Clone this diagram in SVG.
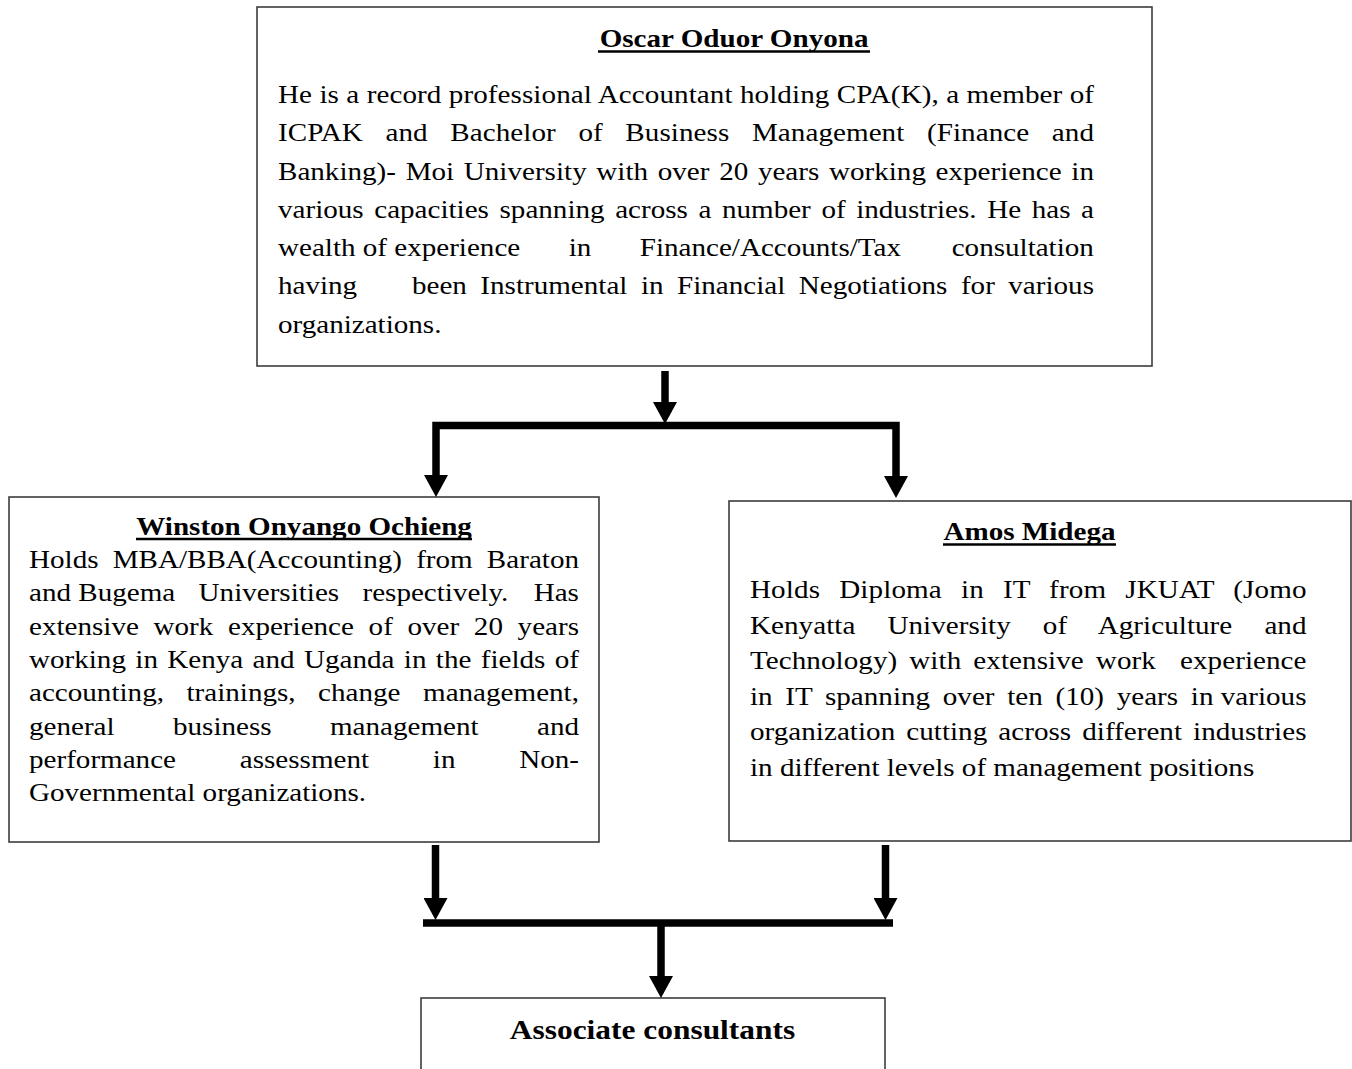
<svg xmlns="http://www.w3.org/2000/svg" width="1352" height="1069" viewBox="0 0 1352 1069">
<style>
.box{fill:#fff;stroke:#3c3c3c;stroke-width:1.6}
.t{font-family:"Liberation Serif","Times New Roman",serif;font-size:25px;fill:#000}
.h{font-family:"Liberation Serif","Times New Roman",serif;font-size:25px;font-weight:bold;fill:#000;text-anchor:middle}
.hb{font-family:"Liberation Serif","Times New Roman",serif;font-size:27px;font-weight:bold;fill:#000;text-anchor:middle}
.ul{stroke:#000;stroke-width:2.6;fill:none}
.conn{fill:none;stroke:#000;stroke-width:7.5;stroke-linejoin:miter;stroke-linecap:butt}
</style>
<defs>
<marker id="arrow" markerUnits="userSpaceOnUse" markerWidth="22" markerHeight="24" viewBox="0 0 22 24" refX="0" refY="12" orient="auto">
<path d="M0,0 L22,12 L0,24 Z" fill="#000"/>
</marker>
</defs>
<rect width="1352" height="1069" fill="#fff"/>

<g id="node-oscar">
<rect class="box" x="257" y="7" width="895" height="359"/>
<line class="ul" x1="598" y1="51.5" x2="870" y2="51.5"/>
<g transform="translate(278 0) scale(1.164 1)">
<text class="h" x="391.8" y="47">Oscar Oduor Onyona</text>
<text class="t" x="0" y="103" textLength="701" lengthAdjust="spacing">He is a record professional Accountant holding CPA(K), a member of</text>
<text class="t" x="0" y="141.3" style="word-spacing:13.14px" textLength="701" lengthAdjust="spacing">ICPAK and Bachelor of Business Management (Finance and</text>
<text class="t" x="0" y="179.6" style="word-spacing:2.06px" textLength="701" lengthAdjust="spacing">Banking)- Moi University with over 20 years working experience in</text>
<text class="t" x="0" y="217.9" style="word-spacing:2.83px" textLength="701" lengthAdjust="spacing">various capacities spanning across a number of industries. He has a</text>
<text class="t" y="256.2"><tspan x="0">wealth of experience</tspan><tspan x="249.8">in</tspan><tspan x="310.8">Finance/Accounts/Tax</tspan><tspan x="578.8">consultation</tspan></text>
<text class="t" x="0" y="294.5">having</text>
<text class="t" x="115.1" y="294.5" style="word-spacing:5.33px" textLength="585.9" lengthAdjust="spacing">been Instrumental in Financial Negotiations for various</text>
<text class="t" x="0" y="332.8">organizations.</text>
</g>
</g>

<g id="node-winston">
<rect class="box" x="9" y="497" width="590" height="345"/>
<line class="ul" x1="136" y1="539" x2="472" y2="539"/>
<g transform="translate(29 0) scale(1.164 1)">
<text class="h" x="236.3" y="535">Winston Onyango Ochieng</text>
<text class="t" x="0" y="568" style="word-spacing:5.93px" textLength="472.5" lengthAdjust="spacing">Holds MBA/BBA(Accounting) from Baraton</text>
<text class="t" y="601.3"><tspan x="0">and Bugema</tspan><tspan x="145.7">Universities</tspan><tspan x="286.5">respectively.</tspan><tspan x="433.6">Has</tspan></text>
<text class="t" x="0" y="634.7" style="word-spacing:6.36px" textLength="472.5" lengthAdjust="spacing">extensive work experience of over 20 years</text>
<text class="t" x="0" y="668" style="word-spacing:1.8px" textLength="472.5" lengthAdjust="spacing">working in Kenya and Uganda in the fields of</text>
<text class="t" x="0" y="701.3" style="word-spacing:13.06px" textLength="472.5" lengthAdjust="spacing">accounting, trainings, change management,</text>
<text class="t" x="0" y="734.7" style="word-spacing:43.9px" textLength="472.5" lengthAdjust="spacing">general business management and</text>
<text class="t" x="0" y="768" style="word-spacing:48.5px" textLength="472.5" lengthAdjust="spacing">performance assessment in Non-</text>
<text class="t" x="0" y="801.3">Governmental organizations.</text>
</g>
</g>

<g id="node-amos">
<rect class="box" x="729" y="501" width="622" height="340"/>
<line class="ul" x1="943" y1="544.5" x2="1116" y2="544.5"/>
<g transform="translate(750 0) scale(1.164 1)">
<text class="h" x="240.1" y="540">Amos Midega</text>
<text class="t" x="0" y="598.5" style="word-spacing:10px" textLength="478.1" lengthAdjust="spacing">Holds Diploma in IT from JKUAT (Jomo</text>
<text class="t" x="0" y="634" style="word-spacing:21.3px" textLength="478.1" lengthAdjust="spacing">Kenyatta University of Agriculture and</text>
<text class="t" x="0" y="669.5" style="word-spacing:4.1px" textLength="478.1" lengthAdjust="spacing">Technology) with extensive work <tspan dx="10.35">experience</tspan></text>
<text class="t" x="0" y="705" style="word-spacing:4.6px" textLength="478.1" lengthAdjust="spacing">in IT spanning over ten (10) years <tspan style="word-spacing:0px">in various</tspan></text>
<text class="t" x="0" y="740.5" style="word-spacing:3.2px" textLength="478.1" lengthAdjust="spacing">organization cutting across different industries</text>
<text class="t" x="0" y="776">in different levels of management positions</text>
</g>
</g>

<g id="node-associates">
<rect class="box" x="421" y="998" width="464" height="80"/>
<g transform="translate(652.5 0) scale(1.164 1)">
<text class="hb" x="0" y="1039.5">Associate consultants</text>
</g>
</g>

<g id="connectors">
<path class="conn" d="M665,371 V402" marker-end="url(#arrow)"/>
<path class="conn" d="M666,425.5 H436 V475" marker-end="url(#arrow)"/>
<path class="conn" d="M666,425.5 H896 V476" marker-end="url(#arrow)"/>
<path class="conn" d="M435.5,845 V898" marker-end="url(#arrow)"/>
<path class="conn" d="M885.5,845 V898" marker-end="url(#arrow)"/>
<path class="conn" d="M423,923 H893"/>
<path class="conn" d="M661,923 V976" marker-end="url(#arrow)"/>
</g>
</svg>
